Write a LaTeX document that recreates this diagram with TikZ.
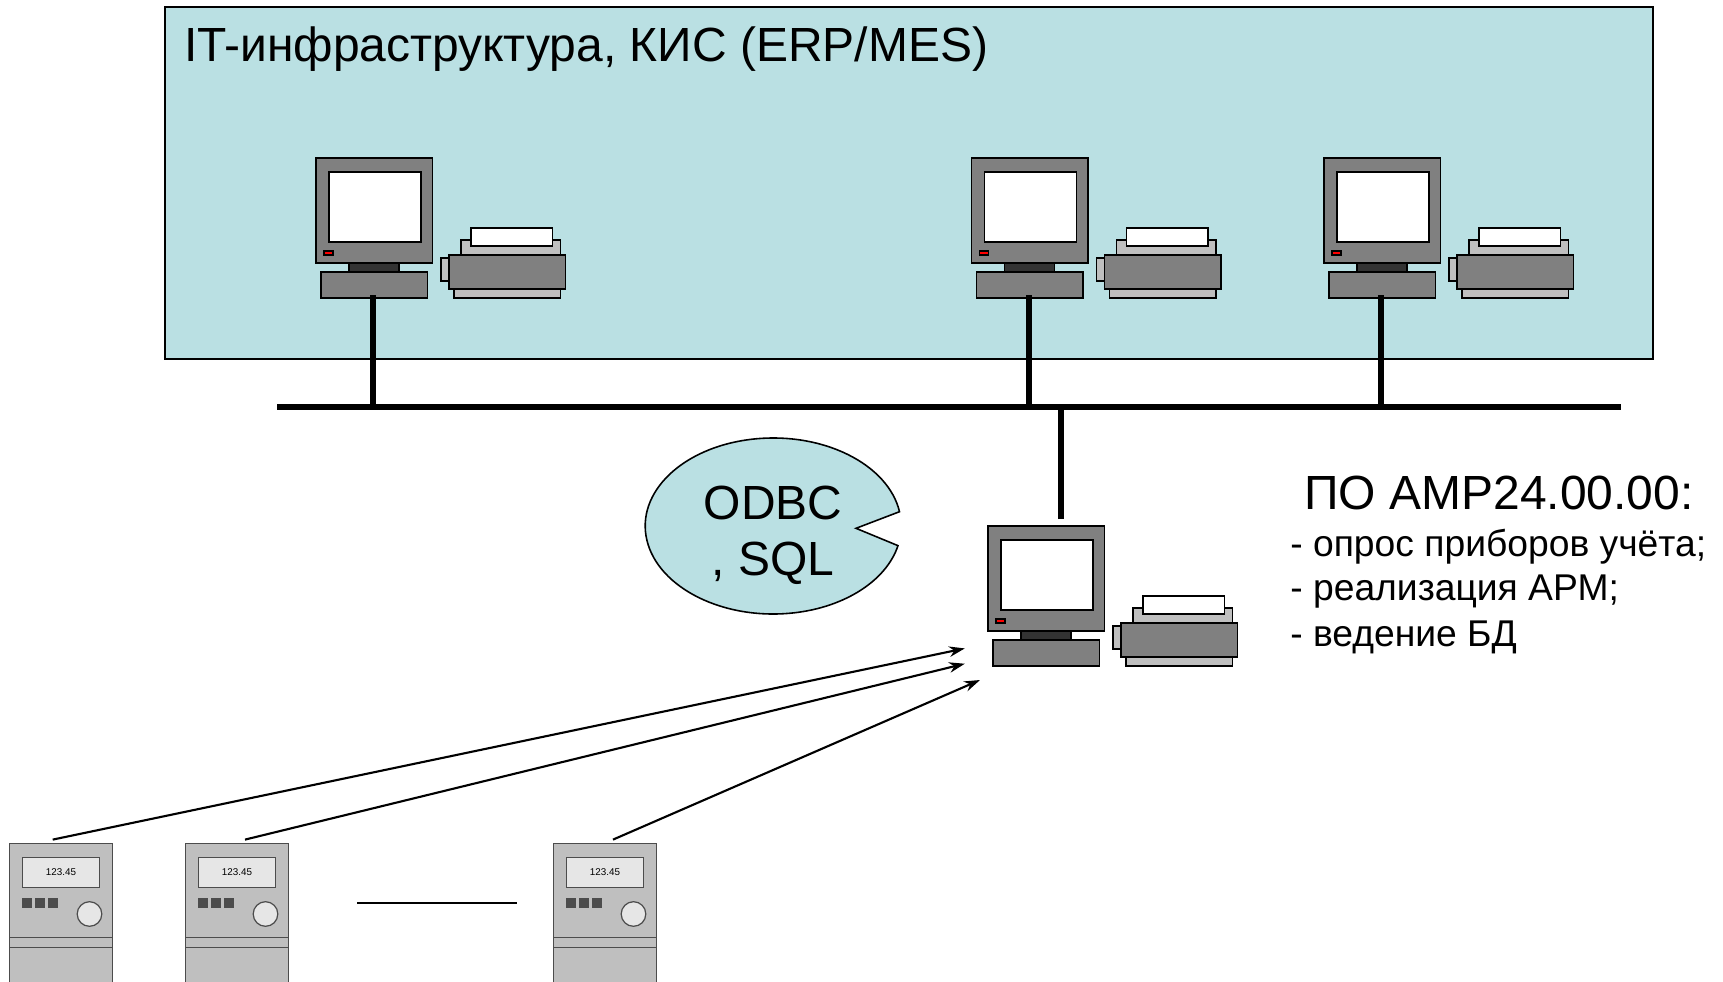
\documentclass[tikz,border=0pt]{standalone}
\usepackage{fontspec}
\setmainfont{Liberation Sans}
\usepackage{xcolor}
\usepackage{tikz}
\usetikzlibrary{arrows.meta}
\definecolor{tealbg}{HTML}{BAE0E3}
\definecolor{devgray}{HTML}{808080}
\definecolor{lightdev}{HTML}{BFBFBF}
\definecolor{meterlight}{HTML}{E6E6E6}
\tikzset{
  part/.style={draw=black, line width=0.7pt},
  meterpart/.style={draw=black!70, line width=0.7pt},
  bus/.style={line width=3pt},
  link/.style={line width=1.2pt, -{Stealth[length=9pt, width=6pt]}},
  heading/.style={font=\fontsize{27.3}{30}\selectfont, anchor=west, inner sep=0pt},
  listline/.style={font=\fontsize{21.2}{24}\selectfont, anchor=west, inner sep=0pt}
}
\newcommand{\workstation}[2]{
\begin{scope}[shift={(#1,#2)}]
\filldraw[part, fill=devgray] (0,0) rectangle (116.5,-105);
\filldraw[part, fill=white] (13,-14) rectangle (105,-84);
\filldraw[part, fill=red] (8,-93) rectangle (17,-97);
\filldraw[part, fill=black!80] (33,-105) rectangle (83,-114);
\filldraw[part, fill=devgray] (5,-114) rectangle (111.5,-140);
\filldraw[part, fill=lightdev] (145,-82) rectangle (244.5,-97);
\filldraw[part, fill=white] (155,-70) rectangle (236.5,-88);
\filldraw[part, fill=lightdev] (125,-100) rectangle (133,-123);
\filldraw[part, fill=lightdev] (138,-131) rectangle (244.5,-140);
\filldraw[part, fill=devgray] (133,-97) rectangle (249.5,-131);
\end{scope}
}
\newcommand{\meter}[3]{
\begin{scope}[shift={(#1,0)}]
\filldraw[meterpart, fill=lightdev] (9.5,-843.5) rectangle (112.5,-985);
\filldraw[meterpart, fill=meterlight] (22.5,-857.5) rectangle (99.5,-887.5);
\node[font=\fontsize{5.6}{8}\selectfont, inner sep=0pt] (#2) at (61,-872) {#3};
\foreach \bx in {22.5,35.5,48.5}
  \filldraw[meterpart, fill=black!70] (\bx,-898.5) rectangle ++(9,-9);
\filldraw[meterpart, fill=meterlight] (89.5,-914) circle (12.3);
\draw[meterpart] (9.5,-937.7) -- (112.5,-937.7);
\draw[meterpart] (9.5,-947.3) -- (112.5,-947.3);
\end{scope}
}
\begin{document}
\begin{tikzpicture}[x=0.02cm, y=0.02cm]
\useasboundingbox (0,0) rectangle (1723,-981);
\filldraw[draw=black, line width=1.1pt, fill=tealbg] (165,-7) rectangle (1653,-359);
\node[heading] (title) at (184,-49) {IT-инфраструктура, КИС (ERP/MES)};
\workstation{316}{-158}
\workstation{971.5}{-158}
\workstation{1324}{-158}
\workstation{988}{-526}
\coordinate (busL) at (277,-407);
\coordinate (busR) at (1621,-407);
\coordinate (pcA) at (373,-295);
\coordinate (pcB) at (1029,-295);
\coordinate (pcC) at (1381,-295);
\coordinate (pcS) at (1061,-519);
\draw[bus] (busL) -- (busR);
\draw[bus] (pcA) -- (pcA |- busL);
\draw[bus] (pcB) -- (pcB |- busL);
\draw[bus] (pcC) -- (pcC |- busL);
\draw[bus] (pcS) -- (pcS |- busL);
\coordinate (tipA) at (899.5,-511.7);
\coordinate (notch) at (856,-528.3);
\filldraw[draw=black, line width=0.9pt, fill=tealbg] (tipA) arc[start angle=9.35, end angle=347.1, x radius=128, y radius=88] -- (notch) -- cycle;
\node[font=\fontsize{27.3}{32}\selectfont, align=center, inner sep=0pt] (odbc) at (773,-535) {ODBC\\, SQL};
\node[heading] (soft) at (1304,-493) {ПО АМР24.00.00:};
\node[listline] (itemA) at (1290,-547) {- опрос приборов учёта;};
\node[listline] (itemB) at (1290,-592) {- реализация АРМ;};
\node[listline] (itemC) at (1290,-637) {- ведение БД};
\meter{0}{valA}{123.45}
\meter{176}{valB}{123.45}
\meter{544}{valC}{123.45}
\coordinate (gapL) at (357,-903);
\coordinate (gapR) at (516.5,-903);
\draw[line width=1.1pt] (gapL) -- (gapR);
\coordinate (mtA) at (52.7,-839.6);
\coordinate (mtB) at (245,-839.6);
\coordinate (mtC) at (613,-839.6);
\coordinate (inA) at (964.8,-648.4);
\coordinate (inB) at (964.8,-663.7);
\coordinate (inC) at (980,-680);
\draw[link] (mtA) -- (inA);
\draw[link] (mtB) -- (inB);
\draw[link] (mtC) -- (inC);
\end{tikzpicture}
\end{document}
